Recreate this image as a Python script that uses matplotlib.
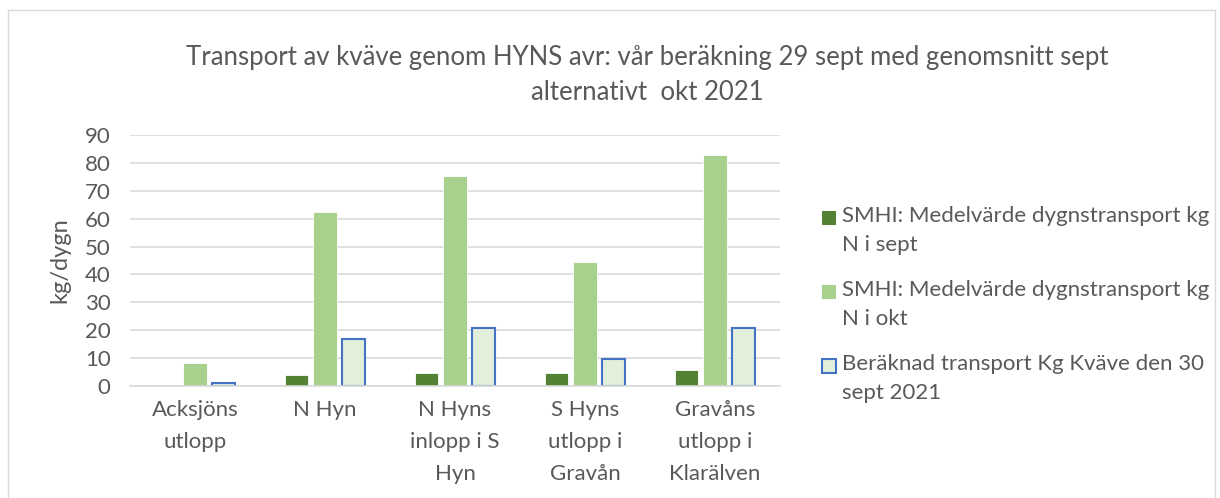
import matplotlib.pyplot as plt
import numpy as np
from matplotlib.patches import Rectangle

plt.rcParams['font.family'] = ['Lato', 'DejaVu Sans']

categories = ['Acksjöns\nutlopp', 'N Hyn', 'N Hyns\ninlopp i S\nHyn', 'S Hyns\nutlopp i\nGravån', 'Gravåns\nutlopp i\nKlarälven']
sept = [0, 4.1, 4.5, 4.8, 5.9]
okt = [8.1, 62.5, 75.4, 44.4, 82.9]
beraknad = [1.0, 17.0, 20.8, 9.7, 20.8]

labels = ['SMHI: Medelvärde dygnstransport kg\nN i sept',
          'SMHI: Medelvärde dygnstransport kg\nN i okt',
          'Beräknad transport Kg Kväve den 30\nsept 2021']

txt = '#595959'
W, H = 1220, 498
fig = plt.figure(figsize=(W / 100, H / 100), dpi=100)
fig.patches.append(Rectangle((8 / W, -0.01), 1207 / W, 1 - 10 / H + 0.01, transform=fig.transFigure,
                             fill=False, edgecolor='#D9D9D9', linewidth=1))
ax = fig.add_axes([130 / W, 1 - 386 / H, 650 / W, 251 / H])

x = np.arange(len(categories))
w = 0.177
off = 0.223
styles = [dict(color='#548235', edgecolor='white', linewidth=0.6),
          dict(color='#A9D18E', edgecolor='white', linewidth=0.6),
          dict(color='#E2EFDA', edgecolor='#4472C4', linewidth=1.5)]
ax.bar(x - off, sept, w, **styles[0])
ax.bar(x, okt, w, **styles[1])
ax.bar(x + off, beraknad, w, **styles[2])

ax.set_ylim(0, 90)
ax.set_xlim(-0.5, 4.5)
ax.set_yticks(range(0, 91, 10))
ax.yaxis.grid(True, color='#D9D9D9', linewidth=1.2)
ax.set_axisbelow(True)
for s in ['top', 'right', 'left']:
    ax.spines[s].set_visible(False)
ax.spines['bottom'].set_color('#D9D9D9')
ax.spines['bottom'].set_linewidth(1.2)
ax.tick_params(length=0, labelsize=16, colors=txt)
ax.tick_params(axis='y', pad=14)
ax.tick_params(axis='x', pad=10)
ax.set_xticks(x)
ax.set_xticklabels(categories, linespacing=1.75)
ax.set_ylabel('kg/dygn', fontsize=17, color=txt, labelpad=10)

fig.text(647 / W, 1 - 75 / H, 'Transport av kväve genom HYNS avr: vår beräkning 29 sept med genomsnitt sept\nalternativt  okt 2021',
         ha='center', va='center', fontsize=18.5, color=txt, linespacing=1.5)

# legend drawn by hand so the swatch sits on the first line
for i, (lab, st) in enumerate(zip(labels, styles)):
    yc = 218 + 74 * i
    sw = Rectangle((822 / W, 1 - (yc + 7) / H), 14 / W, 14 / H, transform=fig.transFigure,
                   facecolor=st['color'], edgecolor=st['edgecolor'] if i == 2 else st['color'],
                   linewidth=1.5 if i == 2 else 0)
    fig.patches.append(sw)
    fig.text(842 / W, 1 - (yc - 12) / H, lab, ha='left', va='top', fontsize=16,
             color=txt, linespacing=1.55)

fig.savefig('out.png', dpi=100)
